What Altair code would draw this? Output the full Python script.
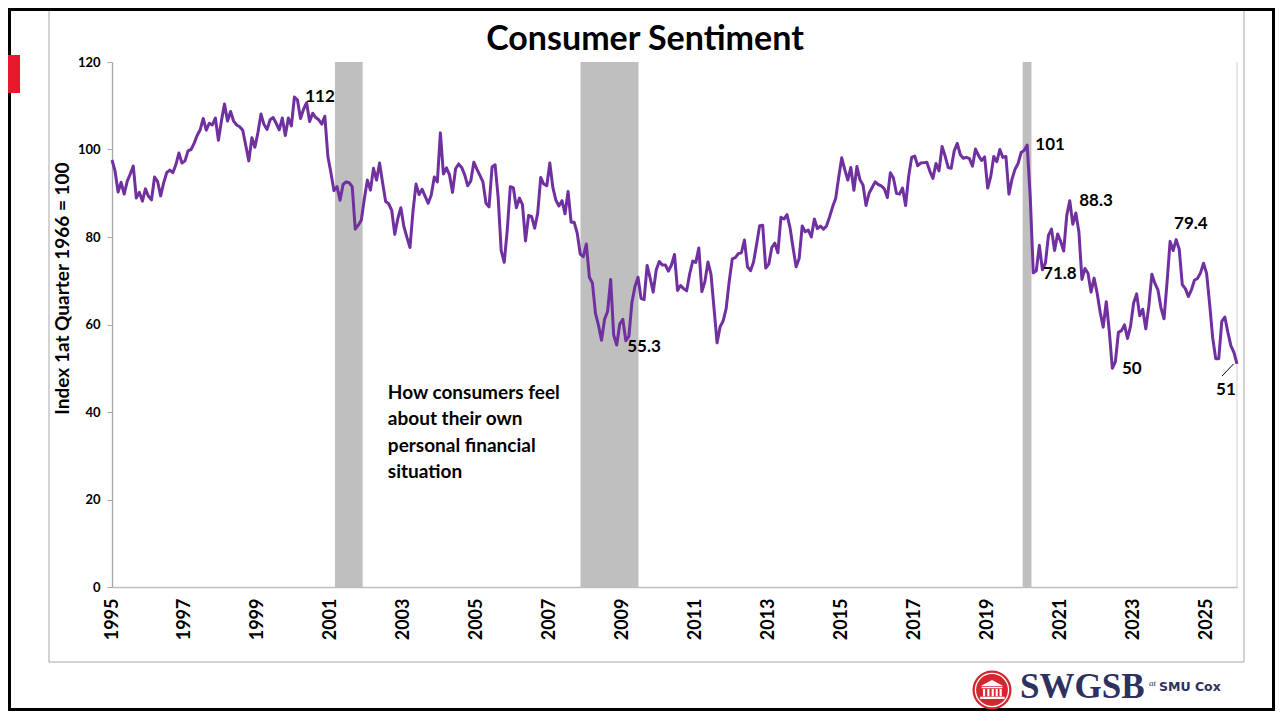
import altair as alt
import pandas as pd

# ---------------- data (University of Michigan consumer sentiment, monthly) ----------------
years = list(range(1995, 2026))
v1995 = [97.6, 95.1, 90.3, 92.5, 89.8, 92.7, 94.4, 96.2, 88.9, 90.2, 88.2, 91.0]
v1996 = [89.3, 88.5, 93.7, 92.7, 89.4, 92.4, 94.7, 95.3, 94.7, 96.5, 99.2, 96.9]
v1997 = [97.4, 99.7, 100.0, 101.4, 103.2, 104.5, 107.1, 104.4, 106.0, 105.6, 107.2, 102.1]
v1998 = [106.6, 110.4, 106.5, 108.7, 106.5, 105.6, 105.2, 104.4, 100.9, 97.4, 102.7, 100.5]
v1999 = [103.9, 108.1, 105.7, 104.6, 106.8, 107.3, 106.0, 104.5, 107.2, 103.2, 107.2, 105.4]
v2000 = [112.0, 111.3, 107.1, 109.2, 110.7, 106.4, 108.3, 107.3, 106.8, 105.8, 107.6, 98.4]
v2001 = [94.7, 90.6, 91.5, 88.4, 92.0, 92.6, 92.4, 91.5, 81.8, 82.7, 83.9, 88.8]
v2002 = [93.0, 90.7, 95.7, 93.0, 96.9, 92.4, 88.1, 87.6, 86.1, 80.6, 84.2, 86.7]
v2003 = [82.4, 79.9, 77.6, 86.0, 92.1, 89.7, 90.9, 89.3, 87.7, 89.6, 93.7, 92.6]
v2004 = [103.8, 94.4, 95.8, 94.2, 90.2, 95.6, 96.7, 95.9, 94.2, 91.7, 92.8, 97.1]
v2005 = [95.5, 94.1, 92.6, 87.7, 86.9, 96.0, 96.5, 89.1, 76.9, 74.2, 81.6, 91.5]
v2006 = [91.2, 86.7, 88.9, 87.4, 79.1, 84.9, 84.7, 82.0, 85.4, 93.6, 92.1, 91.7]
v2007 = [96.9, 91.3, 88.4, 87.1, 88.3, 85.3, 90.4, 83.4, 83.4, 80.9, 76.1, 75.5]
v2008 = [78.4, 70.8, 69.5, 62.6, 59.8, 56.4, 61.2, 63.0, 70.3, 57.6, 55.3, 60.1]
v2009 = [61.2, 56.3, 57.3, 65.1, 68.7, 70.8, 66.0, 65.7, 73.5, 70.6, 67.4, 72.5]
v2010 = [74.4, 73.6, 73.6, 72.2, 73.6, 76.0, 67.8, 68.9, 68.2, 67.7, 71.6, 74.5]
v2011 = [74.2, 77.5, 67.5, 69.8, 74.3, 71.5, 63.7, 55.8, 59.5, 60.8, 63.7, 69.9]
v2012 = [75.0, 75.3, 76.2, 76.4, 79.3, 73.2, 72.3, 74.3, 78.3, 82.6, 82.7, 72.9]
v2013 = [73.8, 77.6, 78.6, 76.4, 84.5, 84.1, 85.1, 82.1, 77.5, 73.2, 75.1, 82.5]
v2014 = [81.2, 81.6, 80.0, 84.1, 81.9, 82.5, 81.8, 82.5, 84.6, 86.9, 88.8, 93.6]
v2015 = [98.1, 95.4, 93.0, 95.9, 90.7, 96.1, 93.1, 91.9, 87.2, 90.0, 91.3, 92.6]
v2016 = [92.0, 91.7, 91.0, 89.0, 94.7, 93.5, 90.0, 89.8, 91.2, 87.2, 93.8, 98.2]
v2017 = [98.5, 96.3, 96.9, 97.0, 97.1, 95.0, 93.4, 96.8, 95.1, 100.7, 98.5, 95.9]
v2018 = [95.7, 99.7, 101.4, 98.8, 98.0, 98.2, 97.9, 96.2, 100.1, 98.6, 97.5, 98.3]
v2019 = [91.2, 93.8, 98.4, 97.2, 100.0, 98.2, 98.4, 89.8, 93.2, 95.5, 96.8, 99.3]
v2020 = [99.8, 101.0, 89.1, 71.8, 72.3, 78.1, 72.5, 74.1, 80.4, 81.8, 76.9, 80.7]
v2021 = [79.0, 76.8, 84.9, 88.3, 82.9, 85.5, 81.2, 70.3, 72.8, 71.7, 67.4, 70.6]
v2022 = [67.2, 62.8, 59.4, 65.2, 58.4, 50.0, 51.5, 58.2, 58.6, 59.9, 56.8, 59.7]
v2023 = [64.9, 67.0, 62.0, 63.5, 59.0, 64.2, 71.5, 69.4, 67.9, 63.8, 61.3, 69.7]
v2024 = [79.0, 76.9, 79.4, 77.2, 69.1, 68.2, 66.4, 67.9, 70.1, 70.5, 71.8, 74.0]
v2025 = [71.7, 64.7, 57.0, 52.2, 52.2, 60.7, 61.7, 58.2, 55.1, 53.6, 51.0]
monthly = [v1995, v1996, v1997, v1998, v1999, v2000, v2001, v2002, v2003, v2004,
           v2005, v2006, v2007, v2008, v2009, v2010, v2011, v2012, v2013, v2014,
           v2015, v2016, v2017, v2018, v2019, v2020, v2021, v2022, v2023, v2024, v2025]

# recession shading (decimal years)
rec_start = [2001.11, 2007.84, 2019.96]
rec_end = [2001.87, 2009.43, 2020.20]

# point labels
ann_text = ["112", "55.3", "101", "88.3", "71.8", "79.4", "50", "51"]
ann_x = [2000.70, 2009.58, 2020.71, 2021.97, 2020.98, 2024.57, 2022.95, 2025.53]
ann_y = [112.0, 54.9, 101.0, 88.2, 71.5, 83.0, 49.8, 45.0]

# leader line for the last label
lead_x = [2025.42]
lead_x2 = [2025.74]
lead_y = [48.2]
lead_y2 = [51.0]

title_text = "Consumer Sentiment"
note_lines = ["How consumers feel", "about their own", "personal financial", "situation"]
note_x = [2002.56]
note_y = [43.0]

x_ticks = list(range(1995, 2026, 2))
y_ticks = [0, 20, 40, 60, 80, 100, 120]

# ---------------- tables ----------------
rows = []
for yr, vals in zip(years, monthly):
    for m, v in enumerate(vals):
        rows.append({"t": yr + m / 12.0, "v": v})
df = pd.DataFrame(rows)
rec_df = pd.DataFrame({"s": rec_start, "e": rec_end})
ann_df = pd.DataFrame({"lx": ann_x, "ly": ann_y, "txt": ann_text})
lead_df = pd.DataFrame({"a": lead_x, "b": lead_x2, "c": lead_y, "d": lead_y2})
note_df = pd.DataFrame({"nx": note_x, "ny": note_y})
one = pd.DataFrame({"k": [0]})

W, H = 1125, 525
FONT = "Lato"

xs = alt.Scale(domain=[1995, 2025 + 10 / 12.0], nice=False, zero=False)
ys = alt.Scale(domain=[0, 120], nice=False, zero=True)

xaxis = alt.Axis(values=x_ticks, format="d", labelAngle=270, labelAlign="right",
                 labelBaseline="middle", labelFont=FONT, labelFontSize=18,
                 labelFontWeight="bold", labelColor="black", labelPadding=11,
                 ticks=False, grid=False, domainColor="#BFBFBF", domainWidth=1.3,
                 title=None, labelOverlap=False)
yaxis = alt.Axis(values=y_ticks, labelFont=FONT, labelFontSize=13, labelFontWeight="bold",
                 labelColor="black", labelPadding=7, tickSize=5, tickColor="#A6A6A6",
                 domainColor="#A6A6A6", domainWidth=1.3, grid=False,
                 title="Index 1at Quarter 1966 = 100", titleFont=FONT, titleFontSize=19,
                 titleFontWeight="bold", titleColor="black", titleAngle=270,
                 titleX=-50, titleY=226, titleAlign="center", titleBaseline="middle")

bands = alt.Chart(rec_df).mark_rect(color="#BFBFBF").encode(
    x=alt.X("s:Q", scale=xs, axis=xaxis),
    x2="e:Q",
    y=alt.Y("y0:Q", scale=ys, axis=yaxis),
    y2="y1:Q",
).transform_calculate(y0="0", y1="120")

line = alt.Chart(df).mark_line(color="#7030A0", strokeWidth=3, strokeJoin="round").encode(
    x=alt.X("t:Q", scale=xs, axis=xaxis),
    y=alt.Y("v:Q", scale=ys, axis=yaxis),
)

labels = alt.Chart(ann_df).mark_text(font=FONT, fontSize=17, fontWeight="bold",
                                     color="black", align="center", baseline="middle").encode(
    x=alt.X("lx:Q", scale=xs, axis=xaxis),
    y=alt.Y("ly:Q", scale=ys, axis=yaxis),
    text="txt:N",
)

leader = alt.Chart(lead_df).mark_rule(color="black", strokeWidth=1).encode(
    x=alt.X("a:Q", scale=xs, axis=xaxis), x2="b:Q",
    y=alt.Y("c:Q", scale=ys, axis=yaxis), y2="d:Q",
)

note = alt.Chart(note_df).mark_text(text=note_lines, font=FONT, fontSize=19, fontWeight="bold",
                                    color="black", align="left", baseline="alphabetic",
                                    lineHeight=26.5).encode(
    x=alt.X("nx:Q", scale=xs, axis=xaxis),
    y=alt.Y("ny:Q", scale=ys, axis=yaxis),
)

# chart title
title = alt.Chart(one).mark_text(text=title_text, font=FONT, fontSize=34, fontWeight="bold",
                                 color="black", align="center", baseline="alphabetic").encode(
    x=alt.value(533), y=alt.value(-12))

# right border of the plot area
rborder = alt.Chart(one).mark_rule(color="#D0D0D0", strokeWidth=1).encode(
    x=alt.value(W), y=alt.value(0), y2=alt.value(H))

# chart box and slide frame
box = alt.Chart(one).mark_rect(fillOpacity=0, stroke="#A6A6A6", strokeWidth=1).encode(
    x=alt.value(-63), x2=alt.value(1132), y=alt.value(-53), y2=alt.value(600))
frame = alt.Chart(one).mark_rect(fillOpacity=0, stroke="black", strokeWidth=3).encode(
    x=alt.value(-102.5), x2=alt.value(1161.5), y=alt.value(-52.5), y2=alt.value(647.5))
redmark = alt.Chart(one).mark_rect(color="#E8192C").encode(
    x=alt.value(-104), x2=alt.value(-92), y=alt.value(-7), y2=alt.value(31))

# logo
logo_c = alt.Chart(one).mark_point(shape="circle", filled=True, color="#D4262E", size=1521,
                                   opacity=1).encode(x=alt.value(880), y=alt.value(628))
logo_ring = alt.Chart(one).mark_point(shape="circle", filled=False, color="white", size=1100,
                                      strokeWidth=1.3, opacity=1).encode(x=alt.value(880), y=alt.value(628))
temple_path = ("M-0.62,-0.22L0,-0.55L0.62,-0.22Z"
               "M-0.58,-0.18H0.58V-0.1H-0.58Z"
               "M-0.5,-0.06H-0.38V0.34H-0.5Z"
               "M-0.26,-0.06H-0.14V0.34H-0.26Z"
               "M-0.02,-0.06H0.1V0.34H-0.02Z"
               "M0.2,-0.06H0.32V0.34H0.2Z"
               "M0.42,-0.06H0.54V0.34H0.42Z"
               "M-0.66,0.38H0.7V0.5H-0.66Z")
logo_t = alt.Chart(one).mark_point(shape=temple_path, filled=True, color="white", size=1300,
                                   opacity=1).encode(x=alt.value(880), y=alt.value(628))
logo_main = alt.Chart(one).mark_text(text="SWGSB", font="Liberation Serif", fontSize=35,
                                     fontWeight="bold", color="#2E3160", align="left",
                                     baseline="alphabetic").encode(x=alt.value(908), y=alt.value(636))
logo_at = alt.Chart(one).mark_text(text="at", font="Liberation Serif", fontSize=9,
                                   fontStyle="italic", color="#2E3160", align="left",
                                   baseline="middle").encode(x=alt.value(1037), y=alt.value(621))
logo_smu = alt.Chart(one).mark_text(text="SMU Cox", font="DejaVu Sans", fontSize=12.5,
                                    fontWeight="bold", color="#2E3160", align="left",
                                    baseline="alphabetic").encode(x=alt.value(1047), y=alt.value(629))

chart = alt.layer(
    box, frame, redmark, bands, rborder, line, labels, leader, note, title,
    logo_c, logo_ring, logo_t, logo_main, logo_at, logo_smu,
).properties(
    width=W, height=H,
    autosize=alt.AutoSizeParams(type="none"),
    padding={"left": 104, "top": 54, "right": 38, "bottom": 124},
).configure_view(stroke=None)

chart.save("out.html", embed_options={"renderer": "svg", "actions": False})
